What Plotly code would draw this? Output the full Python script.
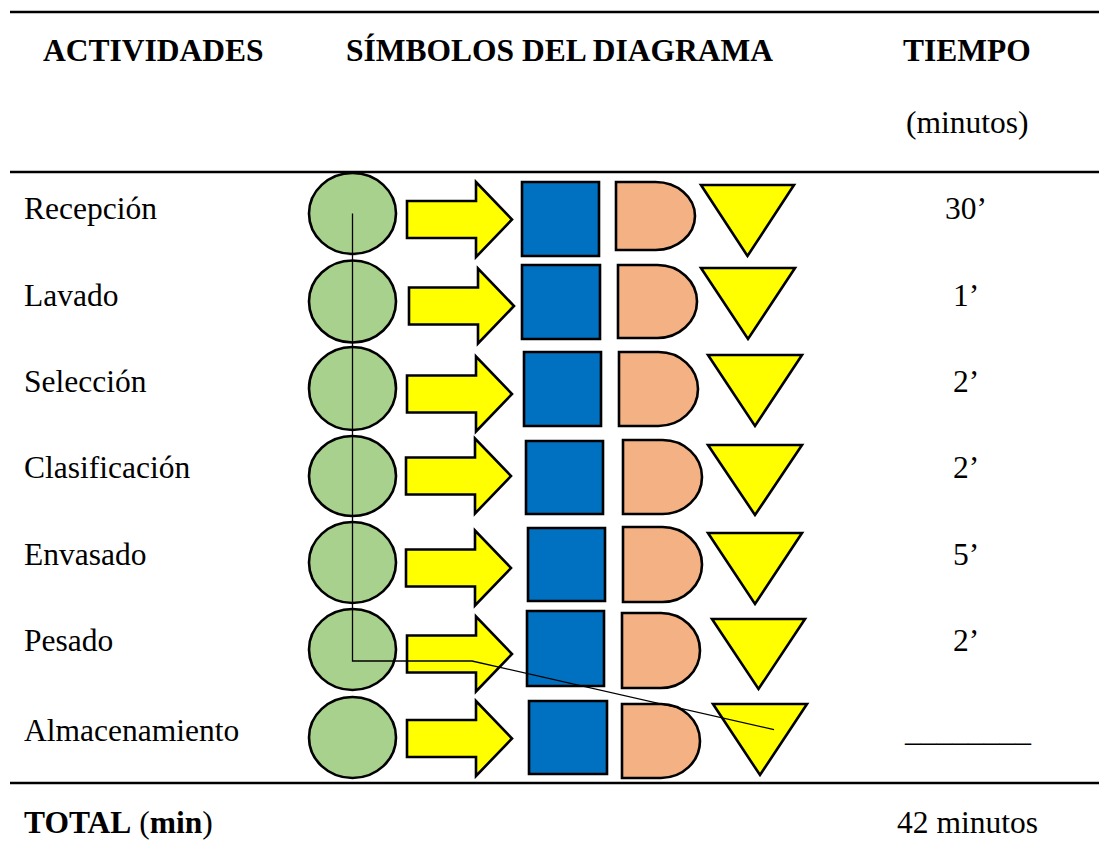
import plotly.graph_objects as go

# ---------------- DATA ----------------
actividades = ["Recepción", "Lavado", "Selección", "Clasificación",
               "Envasado", "Pesado", "Almacenamiento"]
tiempos = ["30’", "1’", "2’", "2’", "5’", "2’", "________"]
simbolos = ["operación", "transporte", "inspección", "demora", "almacenamiento"]
flujo = ["operación", "operación", "operación", "operación",
         "operación", "operación", "almacenamiento"]
encabezados = ["ACTIVIDADES", "SÍMBOLOS DEL DIAGRAMA", "TIEMPO", "(minutos)"]
total_etiqueta = "TOTAL"
total_unidad = "min"
total_valor = "42 minutos"

# ---------------- LAYOUT (positions / styles) ----------------
W, H = 1099, 864
FONT = "Liberation Serif, Times New Roman, serif"
FS = 31.5
row_text_y = [208, 295, 381, 467, 554, 640, 730]

circle_cx, circle_rx = 352.5, 43.5
circle_cy = [213.5, 301.5, 388.5, 476, 562.5, 649.5, 737.5]
circle_ry = [40.5, 41, 41.5, 40, 40.5, 40.5, 40.5]

arrow_left = [407, 409, 407, 406, 406, 407, 407]
arrow_cy = [219.5, 306, 394, 476, 568, 654, 738.5]
arrow_len, arrow_neck, arrow_body_h, arrow_head_h = 105, 69, 18.5, 37.5

square_box = [(522, 599, 182, 256), (522, 600, 265, 339), (524, 601, 352, 426),
              (526, 603, 441, 514), (528, 605, 528, 601), (527, 604, 611, 686),
              (529, 607, 701, 774)]
d_box = [(616, 695, 182, 250), (618, 697, 265, 338), (619, 698, 352, 426),
         (623, 702, 440, 514), (623, 702, 527, 602), (622, 700, 613, 688),
         (622, 700, 704, 778)]
tri_box = [(701, 794, 185, 256), (701, 795, 268, 339), (708, 802, 355, 426),
           (708, 802, 445, 515), (708, 802, 533, 604), (712, 805, 619, 689),
           (713, 807, 704, 775)]

colors = {"operación": "#A9D18E", "transporte": "#FFFF00", "inspección": "#0070C0",
          "demora": "#F4B183", "almacenamiento": "#FFFF00"}
OUT = dict(color="black", width=2.6)

fig = go.Figure()
fig.add_trace(go.Scatter(x=[0, W], y=[0, H], mode="markers",
                         marker=dict(opacity=0), hoverinfo="skip", showlegend=False))

shapes = []


def anchor(sym, i):
    if sym == "operación":
        return circle_cx, circle_cy[i]
    if sym == "almacenamiento":
        x0, x1, y0, y1 = tri_box[i]
        return (x0 + x1) / 2 + 14, y0 + (y1 - y0) / 3 + 2
    return None


for i, act in enumerate(actividades):
    # operación: circle
    shapes.append(dict(type="circle", xref="x", yref="y",
                       x0=circle_cx - circle_rx, x1=circle_cx + circle_rx,
                       y0=circle_cy[i] - circle_ry[i], y1=circle_cy[i] + circle_ry[i],
                       fillcolor=colors["operación"], line=OUT, layer="above"))
    # transporte: arrow
    L, c = arrow_left[i], arrow_cy[i]
    pts = [(L, c - arrow_body_h), (L + arrow_neck, c - arrow_body_h),
           (L + arrow_neck, c - arrow_head_h), (L + arrow_len, c),
           (L + arrow_neck, c + arrow_head_h), (L + arrow_neck, c + arrow_body_h),
           (L, c + arrow_body_h)]
    path = "M " + " L ".join(f"{x},{y}" for x, y in pts) + " Z"
    shapes.append(dict(type="path", xref="x", yref="y", path=path,
                       fillcolor=colors["transporte"], line=OUT, layer="above"))
    # inspección: square
    x0, x1, y0, y1 = square_box[i]
    shapes.append(dict(type="rect", xref="x", yref="y", x0=x0, x1=x1, y0=y0, y1=y1,
                       fillcolor=colors["inspección"], line=OUT, layer="above"))
    # demora: D shape
    x0, x1, y0, y1 = d_box[i]
    xm = (x0 + x1) / 2
    ym = (y0 + y1) / 2
    rx = x1 - xm
    ry = (y1 - y0) / 2
    k = 0.5523
    path = (f"M {x0},{y0} L {xm},{y0} "
            f"C {xm + k * rx},{y0} {x1},{ym - k * ry} {x1},{ym} "
            f"C {x1},{ym + k * ry} {xm + k * rx},{y1} {xm},{y1} "
            f"L {x0},{y1} Z")
    shapes.append(dict(type="path", xref="x", yref="y", path=path,
                       fillcolor=colors["demora"], line=OUT, layer="above"))
    # almacenamiento: inverted triangle
    x0, x1, y0, y1 = tri_box[i]
    path = f"M {x0},{y0} L {x1},{y0} L {(x0 + x1) / 2},{y1} Z"
    shapes.append(dict(type="path", xref="x", yref="y", path=path,
                       fillcolor=colors["almacenamiento"], line=OUT, layer="above"))

# flow line
pts = [anchor(s, i) for i, s in enumerate(flujo)]
ops = [p for p, s in zip(pts, flujo) if s == "operación"]
last_op_i = max(i for i, s in enumerate(flujo) if s == "operación")
bend_y = arrow_cy[last_op_i] + 7
bend_x = arrow_left[last_op_i] + 65
flow_pts = [ops[0], (ops[0][0], bend_y), (bend_x, bend_y), pts[-1]]
path = "M " + " L ".join(f"{x},{y}" for x, y in flow_pts)
shapes.append(dict(type="path", xref="x", yref="y", path=path,
                   line=dict(color="black", width=1.3), layer="above"))

# table rules
for y in [12, 172, 783]:
    shapes.append(dict(type="line", xref="x", yref="y", x0=10, x1=W, y0=y, y1=y,
                       line=dict(color="black", width=2.5), layer="above"))

ann = []


def txt(x, y, s, anchor="left"):
    ann.append(dict(x=x, y=y, xref="x", yref="y", text=s, showarrow=False,
                    xanchor=anchor, yanchor="middle",
                    font=dict(family=FONT, size=FS, color="black")))


txt(41, 50, f"<b>{encabezados[0]}</b>")
txt(559, 50, f"<b>{encabezados[1]}</b>", "center")
txt(967, 50, f"<b>{encabezados[2]}</b>", "center")
txt(967, 122, encabezados[3], "center")
for i, (a, t) in enumerate(zip(actividades, tiempos)):
    txt(22, row_text_y[i], a)
    if t.startswith("_"):
        txt(967, row_text_y[i], t, "center")
    else:
        txt(966, row_text_y[i], t, "center")
txt(22, 822, f"<b>{total_etiqueta}</b> (<b>{total_unidad}</b>)")
txt(967, 822, total_valor, "center")

fig.update_layout(
    width=W, height=H, margin=dict(l=0, r=0, t=0, b=0),
    paper_bgcolor="white", plot_bgcolor="white",
    xaxis=dict(range=[0, W], visible=False, fixedrange=True),
    yaxis=dict(range=[H, 0], visible=False, fixedrange=True),
    shapes=shapes, annotations=ann, showlegend=False,
)

fig.write_html("out.html", config={"displayModeBar": False},
               post_script="document.body.style.margin='0';")
